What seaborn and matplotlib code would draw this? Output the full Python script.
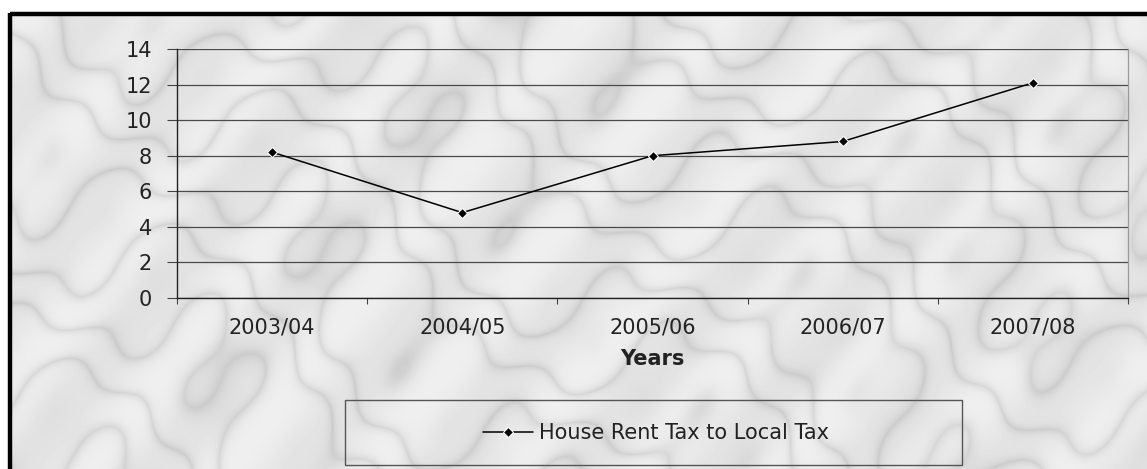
import numpy as np
import pandas as pd
import matplotlib
matplotlib.use("Agg")
import matplotlib.pyplot as plt
import seaborn as sns
from matplotlib.patches import Rectangle
from matplotlib.lines import Line2D

years = ["2003/04", "2004/05", "2005/06", "2006/07", "2007/08"]
ratio = [8.2, 4.8, 8.0, 8.8, 12.1]
series_name = "House Rent Tax to Local Tax"
y_ticks = [0, 2, 4, 6, 8, 10, 12, 14]

df = pd.DataFrame({"Years": years, "value": ratio})

sns.set_theme(style="white")
plt.rcParams["font.family"] = ["DejaVu Sans"]

W, H = 1147, 469
fs = 15
fig = plt.figure(figsize=(W / 100, H / 100), dpi=100)

# marble-ish backdrop (decoration only), on its own axes behind everything
yy, xx = np.mgrid[0:H, 0:W].astype(float)
turb = (np.sin(xx * 0.011 + yy * 0.008) + 0.5 * np.sin(xx * 0.029 - yy * 0.025)
        + 0.25 * np.sin(xx * 0.067 + yy * 0.051))
t = xx * 0.010 - yy * 0.016 + 1.3 * turb
veins = np.exp(-np.abs(np.sin(t * 2.0)) * 2.5)
img = 0.92 - 0.10 * veins + 0.025 * np.sin(xx * 0.045 + yy * 0.035)
img = np.clip(img, 0, 1)
img[:13, :] = 1.0
img[:, :8] = 1.0
bg = fig.add_axes([0, 0, 1, 1], zorder=-5)
bg.imshow(img, cmap="gray", vmin=0, vmax=1, aspect="auto", interpolation="bilinear")
bg.axis("off")

# black frame along top and left
fig.add_artist(Line2D([9.5 / W, 1.02], [1 - 14.5 / H, 1 - 14.5 / H], color="black", lw=3.2,
                      transform=fig.transFigure, solid_capstyle="butt"))
fig.add_artist(Line2D([9.5 / W, 9.5 / W], [1 - 13 / H, -0.02], color="black", lw=3.2,
                      transform=fig.transFigure, solid_capstyle="butt"))

ax = fig.add_axes([177 / W, 1 - 298 / H, (1128 - 177) / W, (298 - 49) / H], zorder=1)
ax.set_facecolor("none")

sns.lineplot(data=df, x="Years", y="value", marker="D", markersize=5.5, color="black",
             linewidth=1.1, ax=ax, label=series_name, sort=False)

ax.set_xlim(-0.5, len(years) - 0.5)
ax.set_ylim(0, 14)
ax.set_yticks(y_ticks)
ax.yaxis.grid(True, color="#4a4a4a", linewidth=0.9)
ax.set_axisbelow(True)

ax.set_xticks(range(len(years)))
ax.set_xticklabels(years)
ax.set_xticks(np.arange(-0.5, len(years)), minor=True)
ax.tick_params(axis="x", which="major", length=0, pad=14, labelsize=fs, colors="#222222")
ax.tick_params(axis="x", which="minor", length=4, width=0.8, color="#444444", direction="out",
               bottom=True)
ax.tick_params(axis="y", length=7, width=0.8, color="#444444", direction="out", left=True,
               pad=11, labelsize=fs, colors="#222222")

ax.set_xlabel("Years", fontsize=fs, fontweight="bold", color="#222222", labelpad=8)
ax.set_ylabel("")

for side in ["left", "bottom"]:
    ax.spines[side].set_color("#222222")
    ax.spines[side].set_linewidth(1.0)
ax.spines["top"].set_visible(False)
ax.spines["right"].set_color("#9a9a9a")
ax.spines["right"].set_linewidth(0.9)

handles, labels = ax.get_legend_handles_labels()
ax.get_legend().remove()

fig.add_artist(Rectangle((345 / W, 1 - 465 / H), (962 - 345) / W, (465 - 400) / H,
                         transform=fig.transFigure, fill=False, edgecolor="#555555", lw=1.0))
fig.legend(handles, labels, loc="center", bbox_to_anchor=(656 / W, 1 - 433 / H),
           frameon=False, fontsize=fs, handlelength=2.4, handletextpad=0.3,
           labelcolor="#222222")

fig.savefig("out.png", dpi=100)
plt.close(fig)
